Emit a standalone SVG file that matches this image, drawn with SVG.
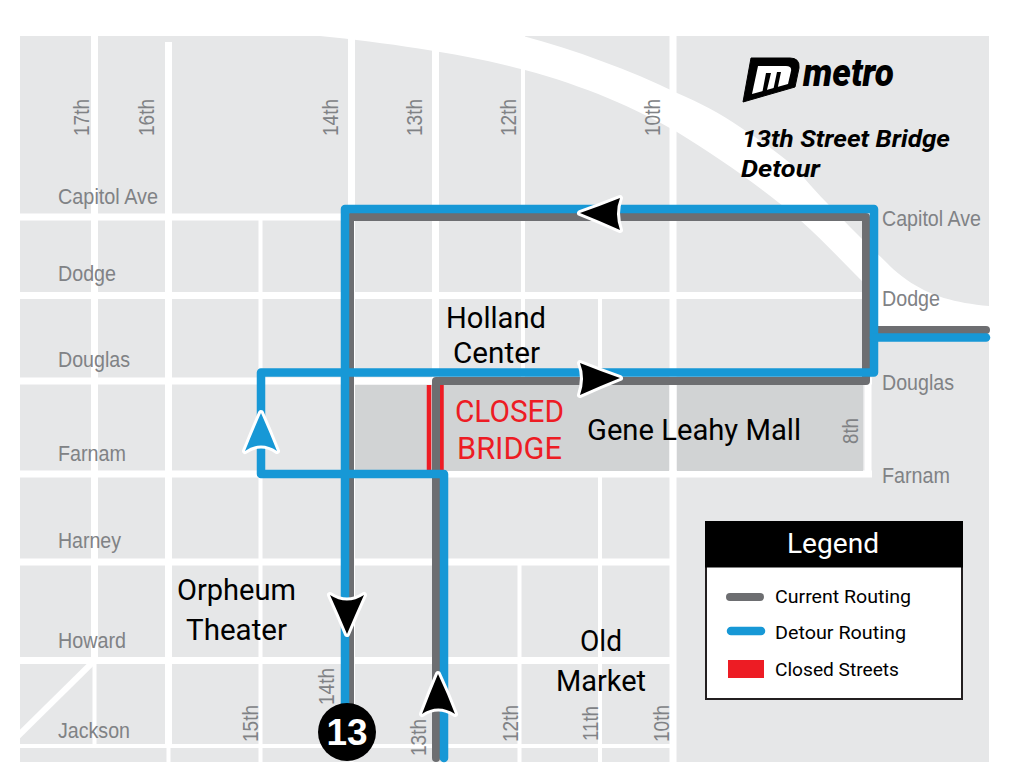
<svg xmlns="http://www.w3.org/2000/svg" width="1024" height="770" viewBox="0 0 1024 770">
<style>
.st{stroke:#fff;fill:none}
.blk{fill:#d1d3d4}
.lb{font-family:"Liberation Sans",Arial,sans-serif;font-size:22px;fill:#808285}
.bk{font-family:Roboto,"Noto Sans",sans-serif;font-size:29px;fill:#000}
.red{font-family:Roboto,"Noto Sans",sans-serif;font-size:31px;fill:#ed1c24}
.ttl{font-family:Roboto,"Noto Sans",sans-serif;font-size:24px;font-weight:700;font-style:italic;fill:#000}
.cur{stroke:#6d6e71;stroke-width:8;fill:none;stroke-linejoin:round;stroke-linecap:round}
.det{stroke:#1798d6;stroke-width:8.5;fill:none;stroke-linejoin:round;stroke-linecap:round}
.ah{stroke:#fff;stroke-width:6;stroke-linejoin:round;paint-order:stroke}
.lg{font-family:Roboto,"Noto Sans",sans-serif;font-size:19px;fill:#000}
</style>
<rect width="1024" height="770" fill="#fff"/>
<rect x="20" y="36" width="969" height="726" fill="#e6e7e8"/>
<g id="streets">
<path fill="#fff" d="M320 36C390 43 470 55 525 70C585 86 635 108 677 132C720 158 770 194 800 220C830 247 850 270 878 297L878 340H989V306C955 303 930 296 907 280C890 268 885 260 873 250C855 232 845 222 827 203C810 186 800 172 790 163C770 147 755 137 740 127C720 113 700 103 677 93C630 70 575 50 523 36Z"/>
<g class="st" stroke-width="7">
<path d="M94.500 36V660M168.500 42V746M351.500 36V746M435.500 36V746M673 36V762" />
<path d="M20 217H873M20 295.500H866M20 381H872M20 474H872M868 381V477M20 562H673M20 660.500H673"/>
</g>
<g class="st" stroke-width="4">
<path d="M260.500 217V746M523 36V381M600 296V381M600 474V746M519.500 562V762M94.500 660V746M20 746H673M351.500 746V762M435.500 746V762M168.500 746V762M260.500 746V762M600 746V762"/>
</g>
<path class="st" stroke-width="6" d="M18 736L94 661"/>
</g>
<g id="mall">
<rect class="blk" x="355" y="385" width="314" height="86"/>
<rect class="blk" x="677" y="385" width="186" height="86"/>
</g>
<g id="closed"><path d="M429 385V471M441.500 385V471" stroke="#ed1c24" stroke-width="4.500" fill="none"/></g>
<g id="connectors">
<path class="cur" d="M350 735V217H866V381H436V758"/>
<path class="cur" d="M874 330H986"/>
<path class="det" d="M345 705V209H874V372.500H261V474H444V758"/>
<path class="det" d="M874 337.500H986"/>
<path class="ah" d="M580 213Q600 206 620 198Q614 213 620 230Q600 221 580 213Z" fill="#000"/>
<path class="ah" d="M620 378Q600 371 580 363Q586 378 580 395Q600 386 620 378Z" fill="#000"/>
<path class="ah" d="M261 413Q269 431 277 451Q261 440 245 451Q253 431 261 413Z" fill="#1798d6"/>
<path class="ah" d="M347 634Q339 615 330 595Q347 606 364 595Q355 615 347 634Z" fill="#000"/>
<path class="ah" d="M438 674Q447 693 455 714Q438 703 422 714Q430 693 438 674Z" fill="#000"/>
</g>
<g id="route13"><circle cx="347" cy="732" r="29" fill="#000"/><text x="347" y="745" text-anchor="middle" font-family="Liberation Sans,sans-serif" font-weight="700" font-size="37" fill="#fff">13</text></g>
<g id="labels">
<text class="lb" x="58" y="204" textLength="100" lengthAdjust="spacingAndGlyphs">Capitol Ave</text>
<text class="lb" x="58" y="281" textLength="58" lengthAdjust="spacingAndGlyphs">Dodge</text>
<text class="lb" x="58" y="367" textLength="72" lengthAdjust="spacingAndGlyphs">Douglas</text>
<text class="lb" x="58" y="461" textLength="68" lengthAdjust="spacingAndGlyphs">Farnam</text>
<text class="lb" x="58" y="548" textLength="63" lengthAdjust="spacingAndGlyphs">Harney</text>
<text class="lb" x="58" y="648" textLength="68" lengthAdjust="spacingAndGlyphs">Howard</text>
<text class="lb" x="58" y="738" textLength="72" lengthAdjust="spacingAndGlyphs">Jackson</text>
<text class="lb" x="882" y="226" textLength="99" lengthAdjust="spacingAndGlyphs">Capitol Ave</text>
<text class="lb" x="882" y="306" textLength="58" lengthAdjust="spacingAndGlyphs">Dodge</text>
<text class="lb" x="882" y="390" textLength="72" lengthAdjust="spacingAndGlyphs">Douglas</text>
<text class="lb" x="882" y="483" textLength="68" lengthAdjust="spacingAndGlyphs">Farnam</text>
<text class="lb" transform="translate(89 136) rotate(-90)" textLength="37" lengthAdjust="spacingAndGlyphs">17th</text>
<text class="lb" transform="translate(154 136) rotate(-90)" textLength="37" lengthAdjust="spacingAndGlyphs">16th</text>
<text class="lb" transform="translate(338 136) rotate(-90)" textLength="37" lengthAdjust="spacingAndGlyphs">14th</text>
<text class="lb" transform="translate(422 136) rotate(-90)" textLength="37" lengthAdjust="spacingAndGlyphs">13th</text>
<text class="lb" transform="translate(516 136) rotate(-90)" textLength="37" lengthAdjust="spacingAndGlyphs">12th</text>
<text class="lb" transform="translate(660 136) rotate(-90)" textLength="37" lengthAdjust="spacingAndGlyphs">10th</text>
<text class="lb" transform="translate(858 444) rotate(-90)" textLength="26" lengthAdjust="spacingAndGlyphs">8th</text>
<text class="lb" transform="translate(258 742) rotate(-90)" textLength="37" lengthAdjust="spacingAndGlyphs">15th</text>
<text class="lb" transform="translate(334 705) rotate(-90)" textLength="37" lengthAdjust="spacingAndGlyphs">14th</text>
<text class="lb" transform="translate(426 756) rotate(-90)" textLength="37" lengthAdjust="spacingAndGlyphs">13th</text>
<text class="lb" transform="translate(518 742) rotate(-90)" textLength="37" lengthAdjust="spacingAndGlyphs">12th</text>
<text class="lb" transform="translate(598 741) rotate(-90)" textLength="35" lengthAdjust="spacingAndGlyphs">11th</text>
<text class="lb" transform="translate(669 742) rotate(-90)" textLength="37" lengthAdjust="spacingAndGlyphs">10th</text>
</g>
<g id="places">
<text class="bk" x="446" y="328" textLength="100" lengthAdjust="spacingAndGlyphs">Holland</text>
<text class="bk" x="453" y="363" textLength="87" lengthAdjust="spacingAndGlyphs">Center</text>
<text class="bk" x="587" y="440" textLength="214" lengthAdjust="spacingAndGlyphs">Gene Leahy Mall</text>
<text class="bk" x="177" y="600" textLength="119" lengthAdjust="spacingAndGlyphs">Orpheum</text>
<text class="bk" x="186" y="640" textLength="101" lengthAdjust="spacingAndGlyphs">Theater</text>
<text class="bk" x="580" y="651" textLength="42" lengthAdjust="spacingAndGlyphs">Old</text>
<text class="bk" x="556" y="691" textLength="90" lengthAdjust="spacingAndGlyphs">Market</text>
<text class="red" x="455" y="422" textLength="109" lengthAdjust="spacingAndGlyphs">CLOSED</text>
<text class="red" x="457" y="459" textLength="105" lengthAdjust="spacingAndGlyphs">BRIDGE</text>
</g>
<g id="logo">
<path d="M751 58H790Q800 58 799 68L795 87L743 102Z" fill="#000" stroke="#000" stroke-linejoin="round"/>
<path d="M758 66H786Q792 66 791 71L788 84L752 94Z" fill="#fff"/>
<path d="M766 73H771L766 94H762ZM777 72H781L777 91H773Z" fill="#000"/>
<text x="803" y="86" font-family="Roboto,sans-serif" font-weight="900" font-style="italic" font-size="38" fill="#000" textLength="91" lengthAdjust="spacingAndGlyphs">metro</text>
<text class="ttl" x="742" y="147" textLength="208" lengthAdjust="spacingAndGlyphs">13th Street Bridge</text>
<text class="ttl" x="741" y="177" textLength="79" lengthAdjust="spacingAndGlyphs">Detour</text>
</g>
<g id="legend">
<rect x="706" y="522" width="256" height="177" fill="#fff" stroke="#231f20" stroke-width="2"/>
<rect x="705" y="521" width="258" height="46.500" fill="#000"/>
<text x="787" y="553" font-family="Roboto,sans-serif" font-size="28" fill="#fff" textLength="92" lengthAdjust="spacingAndGlyphs">Legend</text>
<path class="cur" d="M730 597H760"/>
<path class="det" d="M731 631H761"/>
<rect x="728" y="660" width="36" height="18" fill="#ed1c24"/>
<text class="lg" x="775" y="603" textLength="136" lengthAdjust="spacingAndGlyphs">Current Routing</text>
<text class="lg" x="775" y="639" textLength="131" lengthAdjust="spacingAndGlyphs">Detour Routing</text>
<text class="lg" x="775" y="676" textLength="124" lengthAdjust="spacingAndGlyphs">Closed Streets</text>
</g>
</svg>
